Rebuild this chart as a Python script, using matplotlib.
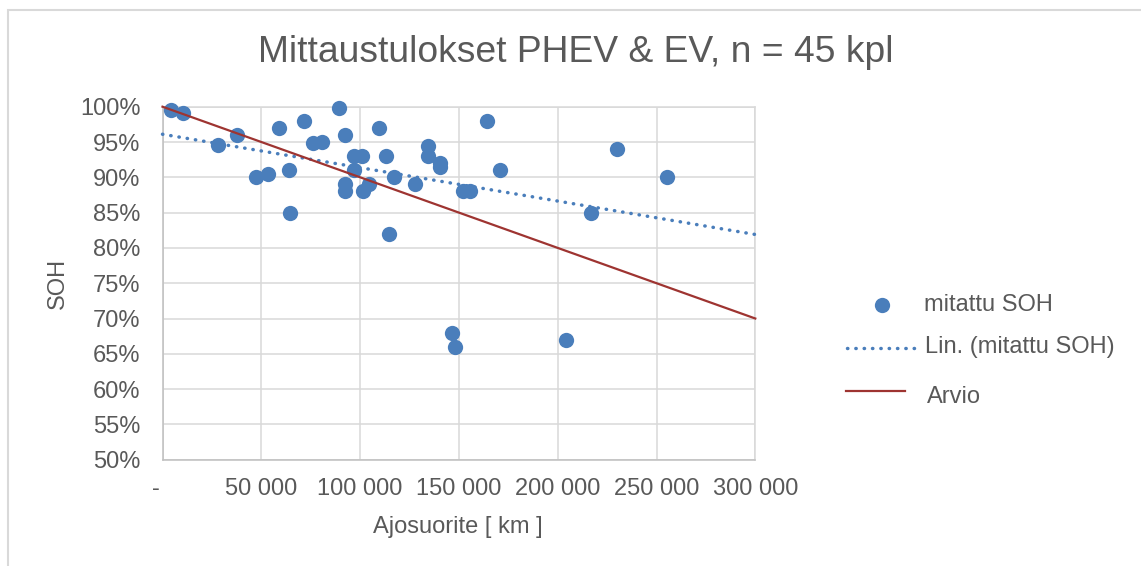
import matplotlib
matplotlib.use("Agg")
import matplotlib.pyplot as plt
from matplotlib.lines import Line2D
from matplotlib.patches import Rectangle
from matplotlib.ticker import FuncFormatter

plt.rcParams['font.family'] = ['Liberation Sans', 'DejaVu Sans']

# ---- data ----
km = [4300, 10500, 28200, 37500, 47300, 53500, 59000, 64200, 64700, 71400,
      76300, 80500, 89200, 92500, 96700, 100800, 96900, 92400, 92400, 101600,
      104700, 109600, 113100, 117300, 114800, 127800, 134200, 134200, 140400, 140400,
      152200, 155600, 164100, 170800, 146300, 148000, 204000, 230100, 255300, 217000]
soh = [0.995, 0.991, 0.946, 0.960, 0.900, 0.905, 0.970, 0.910, 0.850, 0.980,
       0.948, 0.950, 0.998, 0.960, 0.930, 0.930, 0.910, 0.890, 0.880, 0.880,
       0.890, 0.970, 0.930, 0.900, 0.820, 0.890, 0.945, 0.930, 0.920, 0.915,
       0.880, 0.880, 0.980, 0.910, 0.680, 0.660, 0.670, 0.940, 0.900, 0.850]
trend_x = [0, 300000]
trend_y = [0.961, 0.819]
arvio_x = [0, 300000]
arvio_y = [1.00, 0.70]
x_ticks = [0, 50000, 100000, 150000, 200000, 250000, 300000]
y_ticks = [0.50, 0.55, 0.60, 0.65, 0.70, 0.75, 0.80, 0.85, 0.90, 0.95, 1.00]

title = "Mittaustulokset PHEV & EV, n = 45 kpl"
xlabel = "Ajosuorite [ km ]"
ylabel = "SOH"
leg_labels = ["mitattu SOH", "Lin. (mitattu SOH)", "Arvio"]

# ---- style ----
W, H = 1141, 566
TXT = '#595959'
BLUE = '#4A7EBB'
RED = '#9E3431'
GRID = '#D9D9D9'
DOT = (0, (0.1, 2.3))
DOT_LW = 2.5

fig = plt.figure(figsize=(W / 100, H / 100), dpi=100)
fig.patch.set_facecolor('white')

# outer chart border
fig.patches.append(Rectangle((8 / W, -0.05), 1.2, (H - 10) / H + 0.05,
                             transform=fig.transFigure, fill=False,
                             edgecolor='#D9D9D9', linewidth=1.5))

L, R, T, B = 162.5, 755.3, 106.7, 459.7
ax = fig.add_axes([L / W, 1 - B / H, (R - L) / W, (B - T) / H])

ax.scatter(km, soh, s=11 ** 2, color=BLUE, zorder=3, clip_on=False,
           linewidths=0)
ax.plot(trend_x, trend_y, color=BLUE, lw=DOT_LW, linestyle=DOT,
        dash_capstyle='round', zorder=4, clip_on=False)
ax.plot(arvio_x, arvio_y, color=RED, lw=1.6, zorder=5, clip_on=False)

ax.set_xlim(0, 300000)
ax.set_ylim(0.50, 1.00)
ax.set_xticks(x_ticks)
ax.set_yticks(y_ticks)


def xfmt(v, p):
    if v == 0:
        return "-  "
    return f"{int(v):,}".replace(",", " ")


ax.xaxis.set_major_formatter(FuncFormatter(xfmt))
ax.yaxis.set_major_formatter(FuncFormatter(lambda v, p: f"{round(v * 100):d}%"))
ax.tick_params(axis='both', length=0, labelsize=17, colors=TXT)
ax.tick_params(axis='y', pad=16)
ax.tick_params(axis='x', pad=13)

ax.grid(True, color=GRID, linewidth=1.1)
ax.set_axisbelow(True)
for s in ['top', 'right']:
    ax.spines[s].set_color(GRID)
    ax.spines[s].set_linewidth(1.1)
for s in ['left', 'bottom']:
    ax.spines[s].set_color('#BFBFBF')
    ax.spines[s].set_linewidth(1.1)

fig.text(576 / W, 1 - 52 / H, title, ha='center', va='center',
         fontsize=26.8, color=TXT)
fig.text(58 / W, 1 - 283 / H, ylabel, ha='center', va='center',
         rotation=90, fontsize=17, color=TXT)
fig.text(458 / W, 1 - 527 / H, xlabel, ha='center', va='center',
         fontsize=17, color=TXT)

# ---- legend (manual) ----
def fx(px):
    return px / W


def fy(py):
    return 1 - py / H


fig.add_artist(Line2D([fx(882)], [fy(305)], marker='o', markersize=11,
                      color=BLUE, markeredgewidth=0, linestyle='none',
                      transform=fig.transFigure))
fig.text(fx(924), fy(305), leg_labels[0], ha='left', va='center',
         fontsize=17, color=TXT)
fig.add_artist(Line2D([fx(847), fx(917)], [fy(347.5), fy(347.5)], color=BLUE,
                      lw=DOT_LW, linestyle=DOT, dash_capstyle='round',
                      transform=fig.transFigure))
fig.text(fx(925), fy(347), leg_labels[1], ha='left', va='center',
         fontsize=17, color=TXT)
fig.add_artist(Line2D([fx(846), fx(905)], [fy(390.5), fy(390.5)], color=RED,
                      lw=1.6, transform=fig.transFigure))
fig.text(fx(927), fy(397), leg_labels[2], ha='left', va='center',
         fontsize=17, color=TXT)

fig.savefig("out.png", dpi=100)
